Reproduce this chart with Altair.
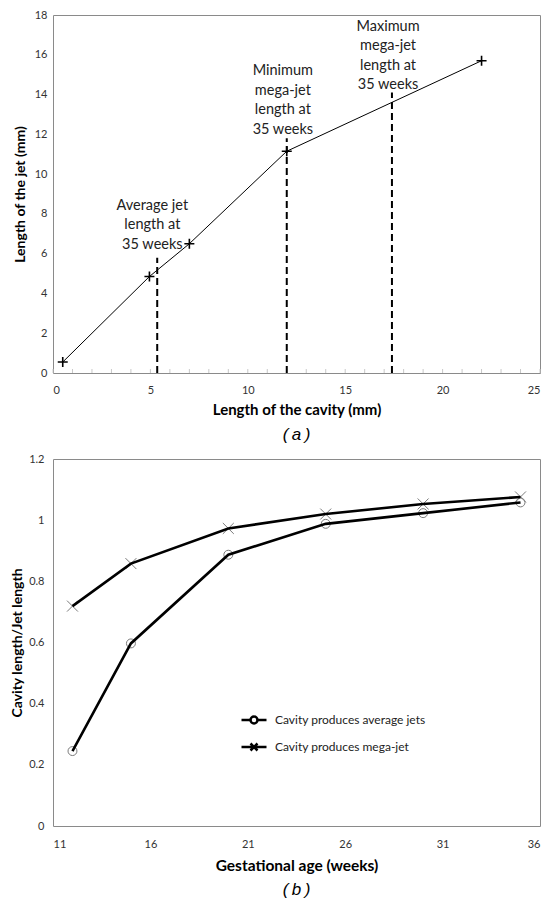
import altair as alt
import pandas as pd

FONT = "Lato"

# ---------- panel (a) data ----------
cavity_mm = [0.5, 4.95, 7.0, 12.0, 22.0]
jet_mm = [0.55, 4.85, 6.5, 11.15, 15.7]
dash_x = [5.35, 12.0, 17.4]
dash_top = [5.8, 11.8, 14.1]
note_text = ["Average jet\nlength at\n35 weeks",
             "Minimum\nmega-jet\nlength at\n35 weeks",
             "Maximum\nmega-jet\nlength at\n35 weeks"]
note_x = [5.1, 11.8, 17.2]
note_y = [8.41, 15.18, 17.41]   # first line of each note
minor_ticks_a = list(range(0, 26))
x_ticks_a = [0, 5, 10, 15, 20, 25]
y_ticks_a = [0, 2, 4, 6, 8, 10, 12, 14, 16, 18]

# ---------- panel (b) data ----------
ages = [12, 15, 20, 25, 30, 35]
ratio_avg = [0.245, 0.597, 0.887, 0.988, 1.023, 1.058]
ratio_mega = [0.719, 0.858, 0.973, 1.020, 1.053, 1.076]
series_names = ["Cavity produces average jets", "Cavity produces mega-jet"]
x_ticks_b = [11, 16, 21, 26, 31, 36]
y_ticks_b = [0, 0.2, 0.4, 0.6, 0.8, 1.0, 1.2]

df_a = pd.DataFrame({"x": cavity_mm, "y": jet_mm})
df_dash = pd.DataFrame({"x": dash_x, "y0": [0] * len(dash_x), "y1": dash_top})
df_note = pd.DataFrame({"x": note_x, "y": note_y, "t": note_text})
df_minor = pd.DataFrame({"x": minor_ticks_a, "y0": [0] * len(minor_ticks_a),
                         "y1": [0.2] * len(minor_ticks_a)})

df_b = pd.DataFrame({
    "age": ages * 2,
    "ratio": ratio_avg + ratio_mega,
    "series": [series_names[0]] * len(ages) + [series_names[1]] * len(ages),
})

W_A, H_A = 487, 358
W_B, H_B = 487, 367

sx_a = alt.Scale(domain=[0, 25], nice=False, zero=False)
sy_a = alt.Scale(domain=[0, 18], nice=False, zero=False)
ax_xa = alt.Axis(values=x_ticks_a, title="Length of the cavity (mm)",
                 grid=False, ticks=False, domain=False, labelPadding=11, titlePadding=7,
                 titleFontSize=15)
ax_ya = alt.Axis(values=y_ticks_a, title="Length of the jet (mm)",
                 grid=False, ticks=False, domain=False, labelPadding=6, titlePadding=7)


def XA(field="x"):
    return alt.X(f"{field}:Q", scale=sx_a, axis=ax_xa)


def YA(field="y"):
    return alt.Y(f"{field}:Q", scale=sy_a, axis=ax_ya)


line_a = alt.Chart(df_a).mark_line(color="black", strokeWidth=1).encode(x=XA(), y=YA())
plus_a = alt.Chart(df_a).mark_point(shape="M-1,0H1M0,-1V1", size=100, filled=False,
                                    color="black", strokeWidth=1.6, opacity=1).encode(x=XA(), y=YA())
dash_a = alt.Chart(df_dash).mark_rule(color="black", strokeWidth=2, strokeDash=[7, 4]).encode(
    x=XA(), y=YA("y0"), y2="y1:Q")
minor_a = alt.Chart(df_minor).mark_rule(color="#c8c8c8", strokeWidth=1).encode(
    x=XA(), y=YA("y0"), y2="y1:Q")
note_a = alt.Chart(df_note).mark_text(font=FONT, fontSize=14.5, lineBreak="\n", lineHeight=19.5,
                                      align="center", baseline="middle", color="#222").encode(
    x=XA(), y=YA(), text="t:N")

panel_a = alt.layer(minor_a, dash_a, line_a, plus_a, note_a).properties(
    width=W_A, height=H_A,
    title=alt.TitleParams("(\u2009a\u2009)", orient="bottom", font="Liberation Sans", fontSize=17,
                          fontStyle="italic", fontWeight="normal", offset=10, color="black"))

# ---------- panel (b) ----------
sx_b = alt.Scale(domain=[11, 36], nice=False, zero=False)
sy_b = alt.Scale(domain=[0, 1.2], nice=False, zero=False)
ax_xb = alt.Axis(values=x_ticks_b, title="Gestational age (weeks)",
                 grid=False, ticks=False, domain=False, labelPadding=12, titlePadding=9,
                 titleFontSize=15.5)
ax_yb = alt.Axis(values=y_ticks_b, format="~g", title="Cavity length/Jet length",
                 grid=False, ticks=False, domain=False, labelPadding=9, titlePadding=4)


def XB():
    return alt.X("age:Q", scale=sx_b, axis=ax_xb)


def YB():
    return alt.Y("ratio:Q", scale=sy_b, axis=ax_yb)


lines_b = alt.Chart(df_b).mark_line(color="black", strokeWidth=2.6).encode(
    x=XB(), y=YB(), detail="series:N")
circ_b = alt.Chart(df_b).transform_filter(
    alt.datum.series == series_names[0]).mark_point(
    shape="circle", size=80, filled=False, color="#7a7a7a", strokeWidth=1, opacity=1).encode(
    x=XB(), y=YB())
cross_b = alt.Chart(df_b).transform_filter(
    alt.datum.series == series_names[1]).mark_point(
    shape="M-1,-1L1,1M-1,1L1,-1", size=120, filled=False, color="#7a7a7a",
    strokeWidth=1, opacity=1).encode(x=XB(), y=YB())

circle_path = "M-1,0H-0.28M0.28,0H1M0.28,0A0.28,0.28,0,1,1,-0.28,0A0.28,0.28,0,1,1,0.28,0"
cross_path = "M-1,0H1M-0.28,-0.28L0.28,0.28M-0.28,0.28L0.28,-0.28"

legend_b = alt.Chart(df_b).transform_filter("false").mark_point(
    filled=False, color="black", strokeWidth=2.5, opacity=1).encode(
    x=XB(), y=YB(),
    shape=alt.Shape("series:N",
                    scale=alt.Scale(domain=series_names, range=[circle_path, cross_path]),
                    legend=alt.Legend(title=None, orient="none", legendX=187, legendY=247,
                                      symbolSize=625, symbolStrokeWidth=2.5,
                                      symbolStrokeColor="black", symbolFillColor="transparent",
                                      symbolOpacity=1, labelFont=FONT, labelFontSize=12,
                                      labelColor="#222", labelOffset=7, rowPadding=4,
                                      padding=0)))

panel_b = alt.layer(circ_b, cross_b, lines_b, legend_b).properties(
    width=W_B, height=H_B,
    title=alt.TitleParams("(\u2009b\u2009)", orient="bottom", font="Liberation Sans", fontSize=17,
                          fontStyle="italic", fontWeight="normal", offset=8, color="black"))

chart = alt.vconcat(panel_a, panel_b, spacing=8).resolve_legend(
    shape="independent").properties(
    padding={"left": 2, "top": 0, "right": 0, "bottom": 0}).configure_view(
    stroke="#8a8a8a", strokeWidth=1).configure_axis(
    labelFont=FONT, labelFontSize=11, labelColor="#333", labelOverlap=False,
    titleFont=FONT, titleFontSize=14, titleFontWeight="bold", titleColor="black")

chart.save("out.html", embed_options={"renderer": "svg", "actions": False})
